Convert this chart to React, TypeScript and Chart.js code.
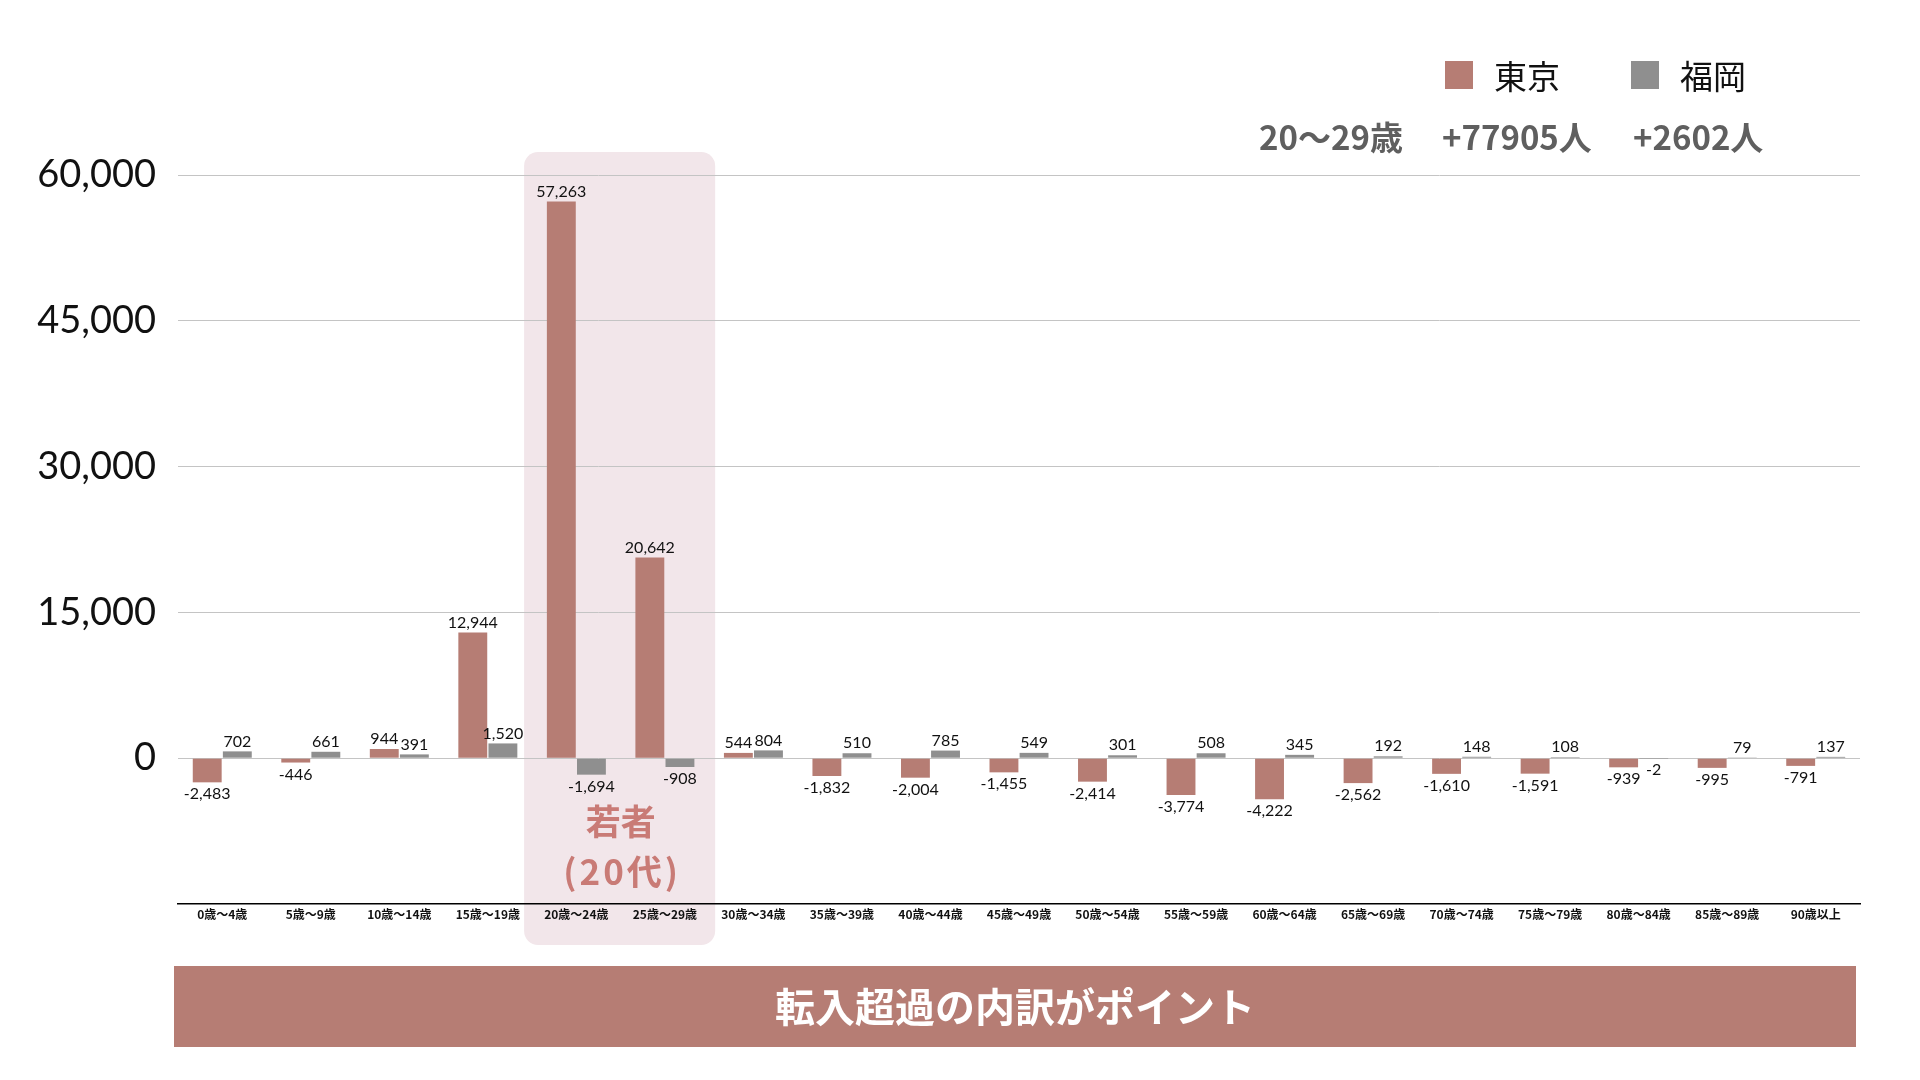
import React, { useEffect, useRef } from "react";
import { Chart, registerables } from "chart.js";

Chart.register(...registerables);

const categories = [
  "0歳〜4歳", "5歳〜9歳", "10歳〜14歳", "15歳〜19歳", "20歳〜24歳", "25歳〜29歳",
  "30歳〜34歳", "35歳〜39歳", "40歳〜44歳", "45歳〜49歳", "50歳〜54歳", "55歳〜59歳",
  "60歳〜64歳", "65歳〜69歳", "70歳〜74歳", "75歳〜79歳", "80歳〜84歳", "85歳〜89歳", "90歳以上",
];
const tokyo = [-2483, -446, 944, 12944, 57263, 20642, 544, -1832, -2004, -1455, -2414, -3774, -4222, -2562, -1610, -1591, -939, -995, -791];
const fukuoka = [702, 661, 391, 1520, -1694, -908, 804, 510, 785, 549, 301, 508, 345, 192, 148, 108, -2, 79, 137];
const seriesNames = ["東京", "福岡"];
const summaryLabel = "20〜29歳";
const summaryValues = ["+77905人", "+2602人"];
const highlightIdx = [4, 5];
const highlightText = ["若者", "(20代)"];
const bannerText = "転入超過の内訳がポイント";
const yTicks = { min: -15000, max: 60000, step: 15000 };

const C_TOKYO = "#b67d74";
const C_FUK = "#8f8f8f";
const JP = '"Noto Sans CJK JP", "Noto Sans", sans-serif';
const NUM = 'Lato, "Noto Sans", sans-serif';

const fmt = (v: number) => v.toLocaleString("en-US");

const decorPlugin = {
  id: "decor",
  beforeDraw(chart: any) {
    const ctx = chart.ctx;
    const x = chart.scales.x;
    const area = chart.chartArea;
    const cw = (x.right - x.left) / categories.length;
    const left = x.getPixelForValue(highlightIdx[0]) - cw / 2 - 8;
    const right = x.getPixelForValue(highlightIdx[1]) + cw / 2 + 6;
    const top = area.top - 23;
    const bottom = area.bottom + 41;
    ctx.save();
    ctx.fillStyle = "#f2e6ea";
    ctx.beginPath();
    (ctx as any).roundRect(left, top, right - left, bottom - top, 14);
    ctx.fill();
    ctx.restore();
  },
  afterDatasetsDraw(chart: any) {
    const ctx = chart.ctx;
    ctx.save();
    ctx.font = `16px ${NUM}`;
    ctx.fillStyle = "#111";
    ctx.textAlign = "center";
    chart.data.datasets.forEach((ds: any, di: number) => {
      const meta = chart.getDatasetMeta(di);
      meta.data.forEach((bar: any, i: number) => {
        const v = ds.data[i];
        if (v >= 0) {
          ctx.textBaseline = "bottom";
          ctx.fillText(fmt(v), bar.x, bar.y - 2);
        } else {
          ctx.textBaseline = "top";
          ctx.fillText(fmt(v), bar.x, bar.y + 4);
        }
      });
    });
    const x = chart.scales.x;
    const cx = (x.getPixelForValue(highlightIdx[0]) + x.getPixelForValue(highlightIdx[1])) / 2;
    ctx.fillStyle = "#c97b76";
    ctx.font = `bold 35px ${JP}`;
    ctx.textBaseline = "middle";
    ctx.fillText(highlightText[0], cx, 822);
    (ctx as any).letterSpacing = "3px";
    ctx.fillText(highlightText[1], cx + 1.5, 872);
    (ctx as any).letterSpacing = "0px";
    ctx.restore();
  },
  afterDraw(chart: any) {
    const ctx = chart.ctx;
    ctx.save();
    const sq = [[1445, C_TOKYO], [1631, C_FUK]] as [number, string][];
    sq.forEach(([sx, col], i) => {
      ctx.fillStyle = col;
      ctx.fillRect(sx, 61, 28, 28);
      ctx.fillStyle = "#111";
      ctx.font = `33px ${JP}`;
      ctx.textAlign = "left";
      ctx.textBaseline = "middle";
      ctx.fillText(seriesNames[i], sx + 49, 76);
    });
    ctx.fillStyle = "#5f5f5f";
    ctx.font = `bold 33px ${JP}`;
    ctx.textBaseline = "middle";
    ctx.textAlign = "left";
    ctx.fillText(summaryLabel, 1259, 137);
    ctx.fillText(summaryValues[0], 1442, 137);
    ctx.fillText(summaryValues[1], 1633, 137);
    ctx.fillStyle = "#b67d74";
    ctx.fillRect(174, 966, 1682, 81);
    ctx.fillStyle = "#ffffff";
    ctx.font = `bold 40px ${JP}`;
    ctx.textAlign = "center";
    ctx.fillText(bannerText, 1015, 1007);
    ctx.restore();
  },
};

export default function App() {
  const ref = useRef<HTMLCanvasElement>(null);
  useEffect(() => {
    document.body.style.margin = "0";
    const chart = new Chart(ref.current as HTMLCanvasElement, {
      type: "bar",
      data: {
        labels: categories,
        datasets: [
          { label: seriesNames[0], data: tokyo, backgroundColor: C_TOKYO, barPercentage: 0.96, categoryPercentage: 0.68 },
          { label: seriesNames[1], data: fukuoka, backgroundColor: C_FUK, barPercentage: 0.96, categoryPercentage: 0.68 },
        ],
      },
      options: {
        animation: false,
        responsive: false,
        layout: { padding: { top: 175, right: 60, bottom: 146, left: 0 } },
        plugins: { legend: { display: false }, tooltip: { enabled: false } },
        scales: {
          x: {
            grid: { display: false, drawTicks: false },
            border: { display: true, color: "#000", width: 1.5 },
            ticks: { color: "#111", font: { family: JP, size: 12, weight: "bold" }, padding: 3, maxRotation: 0, autoSkip: false },
            afterFit: (s: any) => { s.height = 30; },
          },
          y: {
            min: yTicks.min,
            max: yTicks.max,
            ticks: {
              stepSize: yTicks.step,
              color: "#111",
              font: { family: NUM, size: 38 },
              padding: 22,
              callback: (v: any) => (v === yTicks.min ? "" : fmt(Number(v))),
            },
            grid: {
              drawTicks: false,
              color: (c: any) => (c.tick && c.tick.value === yTicks.min ? "rgba(0,0,0,0)" : "#c4c4c4"),
              lineWidth: 1,
            },
            border: { display: false },
            afterFit: (s: any) => { s.width = 178; },
          },
        },
      },
      plugins: [decorPlugin],
    } as any);
    return () => chart.destroy();
  }, []);
  return (
    <div style={{ position: "fixed", left: 0, top: 0, width: 1920, height: 1080, background: "#fff" }}>
      <canvas ref={ref} width={1920} height={1080} />
    </div>
  );
}
